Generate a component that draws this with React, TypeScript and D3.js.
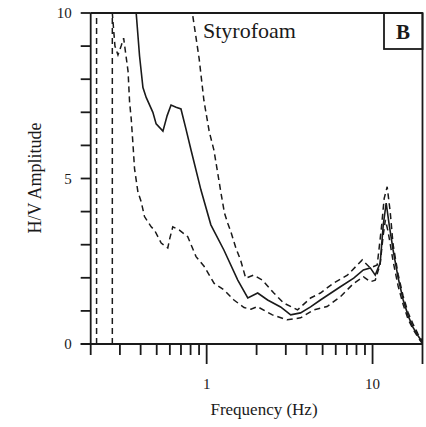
import React from "react";
import * as d3 from "d3";

const solidFreq = [0.33, 0.376, 0.394, 0.413, 0.432, 0.474, 0.496, 0.545, 0.578, 0.61, 0.654, 0.70, 0.75, 0.805, 0.924, 1.06, 1.27, 1.54, 1.77, 2.03, 2.33, 2.79, 3.21, 3.68, 4.23, 4.85, 6.4, 7.7, 8.8, 9.69, 10.38, 11.12, 11.6, 12.08, 12.6, 13.3, 14.26, 15.3, 16.4, 17.5, 18.8, 19.9];
const solidAmp = [10, 10, 8.7, 7.75, 7.45, 7.0, 6.65, 6.43, 6.9, 7.22, 7.15, 7.1, 6.5, 5.86, 4.65, 3.6, 2.84, 1.93, 1.39, 1.54, 1.33, 1.12, 0.88, 0.94, 1.12, 1.33, 1.73, 1.99, 2.24, 2.3, 2.08, 2.45, 3.6, 4.26, 3.6, 2.84, 2.0, 1.33, 0.85, 0.51, 0.25, 0.06];

const upperFreq = [0.217, 0.217, 0.82, 0.9, 0.963, 1.037, 1.106, 1.185, 1.22, 1.28, 1.34, 1.40, 1.5, 1.6, 1.72, 1.92, 2.17, 2.54, 2.91, 3.53, 4.23, 4.85, 5.81, 7.05, 8.67, 9.69, 10.67, 11.3, 11.75, 12.25, 12.77, 13.3, 14.26, 15.28, 16.37, 17.54, 18.8, 19.9];
const upperAmp = [0, 10, 10, 8.64, 7.35, 6.41, 5.86, 4.95, 4.56, 3.96, 3.65, 3.39, 2.9, 2.54, 1.99, 2.08, 1.93, 1.54, 1.24, 1.03, 1.39, 1.54, 1.84, 2.08, 2.54, 2.3, 2.39, 3.5, 4.4, 4.75, 4.0, 3.0, 2.1, 1.45, 0.95, 0.6, 0.3, 0.1];

const lowerFreq = [0.27, 0.27, 0.28, 0.292, 0.305, 0.316, 0.326, 0.336, 0.343, 0.351, 0.36, 0.3675, 0.385, 0.403, 0.422, 0.463, 0.485, 0.532, 0.583, 0.60, 0.625, 0.685, 0.769, 0.863, 0.967, 1.11, 1.275, 1.46, 1.68, 1.85, 2.02, 2.49, 3.06, 3.68, 4.41, 5.32, 6.4, 7.69, 8.83, 9.69, 10.38, 11.1, 11.6, 11.95, 12.4, 12.8, 13.3, 14.26, 15.28, 16.37, 17.54, 18.8, 19.9];
const lowerAmp = [0, 10, 9.0, 8.73, 9.0, 9.24, 8.73, 8.23, 7.32, 6.8, 6.0, 5.3, 4.6, 4.3, 3.85, 3.54, 3.44, 3.05, 2.9, 3.2, 3.54, 3.44, 3.24, 2.64, 2.34, 1.83, 1.63, 1.33, 1.1, 1.05, 1.13, 0.88, 0.73, 0.79, 1.03, 1.13, 1.43, 1.83, 2.03, 1.88, 1.93, 2.4, 3.3, 3.75, 3.4, 3.0, 2.5, 1.75, 1.2, 0.75, 0.45, 0.2, 0.02];

const minorTicks = [0.3, 0.4, 0.5, 0.6, 0.7, 0.8, 0.9, 2, 3, 4, 5, 6, 7, 8, 9];
const majorTicks = [1, 10];
const majorLabels = ["1", "10"];
const yTicks = [0, 1, 2, 3, 4, 5, 6, 7, 8, 9, 10];
const yLabelTicks = [0, 5, 10];

const INK = "#1a1a1a";
const FONT = "'Liberation Serif', 'Times New Roman', serif";

export default function App() {
  const left = 90.7, right = 422.5, top = 13, bottom = 344;
  const x = d3.scaleLog().domain([0.2, 20]).range([left, right]);
  const y = d3.scaleLinear().domain([0, 10]).range([bottom, top]);

  const mk = (fs: number[], vs: number[]) =>
    d3.line<number>()
      .x((_, i) => x(fs[i]))
      .y((_, i) => y(Math.min(vs[i], 10)))(vs.map((v) => v)) || "";

  return (
    <svg width={426} height={427} style={{ position: "absolute", left: 0, top: 0, background: "#fff" }}>
      <rect x={0} y={0} width={426} height={427} fill="#fff" />
      <defs>
        <clipPath id="plotclip">
          <rect x={left} y={top - 2} width={right - left} height={bottom - top + 2} />
        </clipPath>
      </defs>
      <g clipPath="url(#plotclip)" fill="none">
        <path d={mk(upperFreq, upperAmp)} stroke={INK} strokeWidth={1.5} strokeDasharray="6,4" />
        <path d={mk(lowerFreq, lowerAmp)} stroke={INK} strokeWidth={1.5} strokeDasharray="6,4" />
        <path d={mk(solidFreq, solidAmp)} stroke={INK} strokeWidth={1.6} />
      </g>
      <g stroke={INK} strokeWidth={1.8} fill="none">
        <line x1={left} y1={top} x2={right} y2={top} />
        <line x1={right} y1={top} x2={right} y2={bottom} />
        <line x1={left} y1={top} x2={left} y2={bottom + 11} />
        <line x1={left - 10} y1={bottom} x2={right} y2={bottom} />
        <line x1={right} y1={bottom} x2={right} y2={bottom + 20} />
        {minorTicks.map((t) => (
          <line key={"m" + t} x1={x(t)} x2={x(t)} y1={bottom} y2={bottom + 11} />
        ))}
        {majorTicks.map((t) => (
          <line key={"M" + t} x1={x(t)} x2={x(t)} y1={bottom} y2={bottom + 20} />
        ))}
        {yTicks.map((t) => (
          <line key={"y" + t} x1={left - 10} x2={left} y1={y(t)} y2={y(t)} />
        ))}
      </g>
      {majorTicks.map((t, i) => (
        <text key={"ml" + t} x={x(t)} y={389} textAnchor="middle" fontFamily={FONT} fontSize={15} fill={INK}>
          {majorLabels[i]}
        </text>
      ))}
      {yLabelTicks.map((t) => (
        <text key={"yl" + t} x={left - 19} y={y(t) + 5} textAnchor="end" fontFamily={FONT} fontSize={15} fill={INK}>
          {String(t)}
        </text>
      ))}
      <text x={264} y={415} textAnchor="middle" fontFamily={FONT} fontSize={17} fill={INK}>
        Frequency (Hz)
      </text>
      <text transform={`translate(41,178) rotate(-90)`} textAnchor="middle" fontFamily={FONT} fontSize={18} fill={INK}>
        H/V Amplitude
      </text>
      <text x={203} y={38} fontFamily={FONT} fontSize={22} fill={INK}>
        Styrofoam
      </text>
      <rect x={384} y={top} width={right - 384} height={36} fill="none" stroke={INK} strokeWidth={1.8} />
      <text x={403} y={39} textAnchor="middle" fontFamily={FONT} fontSize={21} fontWeight="bold" fill={INK}>
        B
      </text>
    </svg>
  );
}
